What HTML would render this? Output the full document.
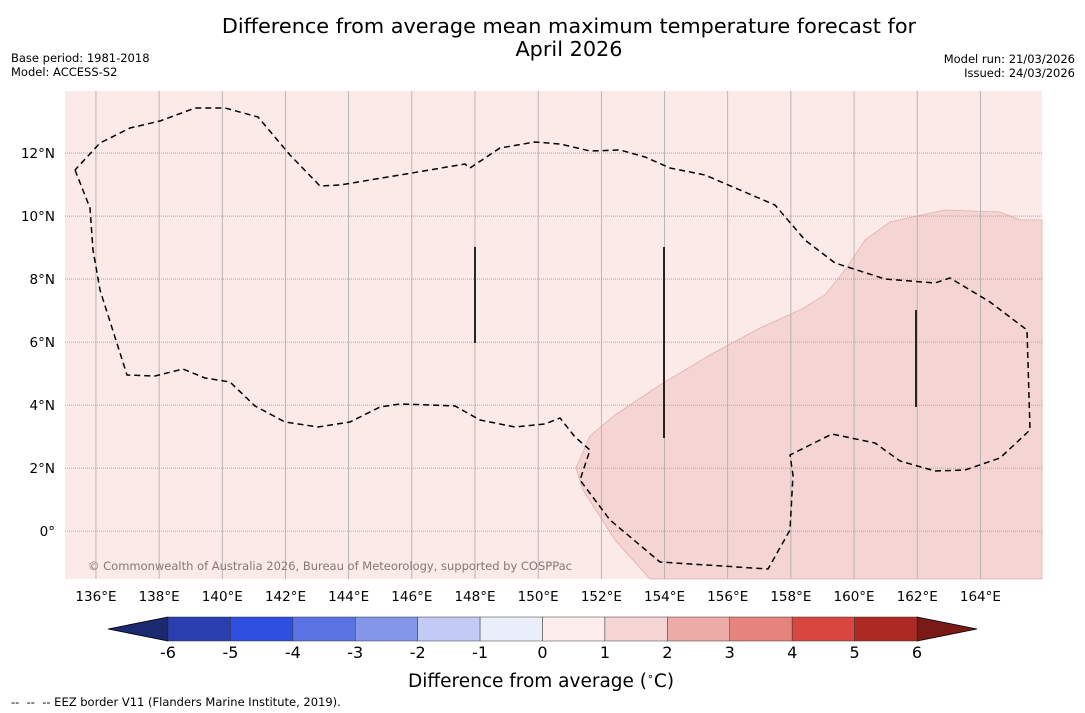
<!DOCTYPE html>
<html><head><meta charset="utf-8"><style>
body{margin:0;background:#fff;width:1085px;height:713px;overflow:hidden;font-family:"DejaVu Sans","Liberation Sans",sans-serif}
.t{position:absolute;white-space:nowrap;color:#000}
</style></head><body>
<div class="t" style="left:0;width:1138px;top:15px;text-align:center;font-size:20.8px;line-height:23px">Difference from average mean maximum temperature forecast for<br>April 2026</div>
<div class="t" style="left:11px;top:51px;font-size:11.5px;line-height:14px">Base period: 1981-2018<br>Model: ACCESS-S2</div>
<div class="t" style="right:10px;top:52px;font-size:11.5px;line-height:14px;text-align:right">Model run: 21/03/2026<br>Issued: 24/03/2026</div>
<svg width="1085" height="713" style="position:absolute;left:0;top:0">
<g id="map"></g>
<g id="cbar"></g>
</svg>
<div class="t" style="left:408px;top:670px;font-size:18.5px">Difference from average (<sup style="font-size:11px">∘</sup>C)</div>
<div class="t" style="left:11px;top:695px;font-size:11.5px">-- &nbsp;-- &nbsp;-- EEZ border V11 (Flanders Marine Institute, 2019).</div>
<script>
const lonTicks=[136,138,140,142,144,146,148,150,152,154,156,158,160,162,164];
const latTicks=[0,2,4,6,8,10,12];
const cbLevels=[-6,-5,-4,-3,-2,-1,0,1,2,3,4,5,6];
const cbColors=["#2a3eb0","#2f4fe0","#5a72e2","#8496ea","#c2cbf3","#eaedfa","#fdeeed","#f5d5d4","#ecaba6","#e5837c","#d8473f","#ad2a24"];
const L=65,R=1042,T=91,B=579,lon0=135.02,lon1=165.95,lat0=-1.52,lat1=13.97;
const x=v=>L+(v-lon0)/(lon1-lon0)*(R-L), y=v=>B-(v-lat0)/(lat1-lat0)*(B-T);
const NS="http://www.w3.org/2000/svg";
function mk(p,tag,a){const e=document.createElementNS(NS,tag);for(const k in a)e.setAttribute(k,a[k]);p.appendChild(e);return e;}
const g=document.getElementById('map');
const bg=mk(g,'rect',{x:L,y:T,width:R-L,height:B-T,fill:'#fbeae8'});


const sh=mk(g,'path',{d:'M650,579 L615,540 583,490 576,468 590,436 615,415 660,385 710,355 760,328 800,310 825,295 845,270 865,240 890,222 945,210 1000,212 1020,220 1042,220 1042,579Z',fill:'#f5d5d4',stroke:'#e0b0ae','stroke-width':0.8});


lonTicks.forEach(v=>{
 const l=mk(g,'line',{x1:x(v),x2:x(v),y1:T,y2:B,stroke:'#aaa','stroke-width':0.8});
 
 
 const t=mk(g,'text',{x:x(v),y:601,'text-anchor':'middle','font-size':13.5});t.textContent=v+'°E';
 
 
});
latTicks.forEach(v=>{
 const l=mk(g,'line',{x1:L,x2:R,y1:y(v),y2:y(v),stroke:'#999','stroke-width':0.8,'stroke-dasharray':'1,1'});
 
 
 const t=mk(g,'text',{x:55,y:y(v)+5,'text-anchor':'end','font-size':13.5});t.textContent=v===0?'0°':v+'°N';
 
 
});
const eez=mk(g,'path',{d:'M75,170 L90,208 93,250 100,290 127,375 155,376 183,369 205,378 230,382 255,406 285,422 318,427 350,422 380,407 400,404 430,405 455,406 480,420 515,427 545,424 560,418 575,437 590,450 580,480 610,520 660,562 768,569 790,530 793,475 790,455 810,445 832,434 875,443 900,461 935,471 965,470 1000,458 1030,430 1027,330 990,302 950,278 935,283 885,279 835,263 805,240 775,205 740,190 705,175 670,168 645,157 620,150 590,151 560,144 535,142 500,148 470,168 465,164 400,175 340,185 320,186 290,155 258,117 225,108 195,108 160,121 130,128 100,143 75,170',fill:'none',stroke:'#000','stroke-width':1.5,'stroke-dasharray':'6,4'});


[[475,247,343],[664,247,438],[916,310,407]].forEach(a=>{
 const l=mk(g,'line',{x1:a[0],x2:a[0],y1:a[1],y2:a[2],stroke:'#111','stroke-width':1.8});
 
 
});
const cp=mk(g,'text',{x:88,y:570,'font-size':11.5,fill:'#8a7575',textLength:484});cp.textContent='© Commonwealth of Australia 2026, Bureau of Meteorology, supported by COSPPac';


const cb=document.getElementById('cbar');
const cx0=168,cx1=917,cy0=617,cy1=641;
const cx=v=>cx0+(v-cbLevels[0])/(cbLevels[cbLevels.length-1]-cbLevels[0])*(cx1-cx0);
const lt=mk(cb,'polygon',{points:`${cx0},${cy0} 108,629 ${cx0},${cy1}`,fill:'#1b2a70',stroke:'#000','stroke-width':0.8});


const rt=mk(cb,'polygon',{points:`${cx1},${cy0} 977,629 ${cx1},${cy1}`,fill:'#7a1a16',stroke:'#000','stroke-width':0.8});


cbColors.forEach((c,i)=>{
 const r=mk(cb,'rect',{x:cx(cbLevels[i]),y:cy0,width:cx(cbLevels[i+1])-cx(cbLevels[i]),height:cy1-cy0,fill:c,stroke:'#333','stroke-width':0.5});
 
 
});
cbLevels.forEach(v=>{
 const t=mk(cb,'text',{x:cx(v),y:658,'text-anchor':'middle','font-size':16});t.textContent=v;
 
 
});
</script>
</body></html>
